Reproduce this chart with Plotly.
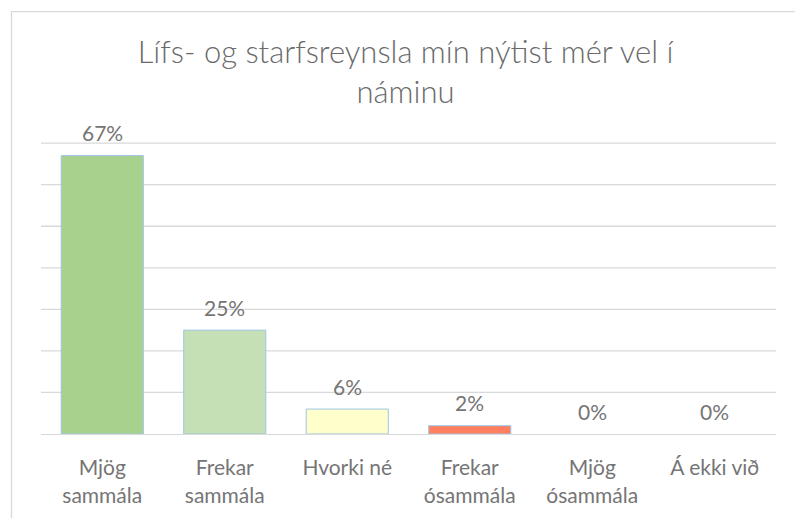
import plotly.graph_objects as go

categories = ["Mjög<br>sammála", "Frekar<br>sammála", "Hvorki né", "Frekar<br>ósammála", "Mjög<br>ósammála", "Á ekki við"]
values = [0.67, 0.25, 0.06, 0.02, 0.0, 0.0]
labels = ["67%", "25%", "6%", "2%", "0%", "0%"]
bar_colors = ["#a9d18e", "#c5e0b4", "#ffffcc", "#ff7f5f", "#ffffff", "#ffffff"]
grid_values = [0.1, 0.2, 0.3, 0.4, 0.5, 0.6, 0.7]
title_text = "Lífs- og starfsreynsla mín nýtist mér vel í<br>náminu"

# page body adds an 8px offset; the figure is sized to compensate
W, H = 795, 510
Y_MAX = 0.71
px_per_unit = 291 / 0.7
L, R, B = 33, 27, 84
T = 135 - (Y_MAX - 0.7) * px_per_unit
pw = W - L - R
ph = H - T - B

line_widths = [1 if v > 0 else 0 for v in values]

fig = go.Figure()
fig.add_trace(go.Bar(
    x=categories, y=values,
    marker=dict(color=bar_colors, line=dict(color="#9dc3e6", width=line_widths)),
    width=0.67,
    hoverinfo="skip",
))

annotations = []
for c, v, t in zip(categories, values, labels):
    annotations.append(dict(x=c, y=v, xref="x", yref="y", text=t, showarrow=False,
                            yanchor="middle", yshift=23,
                            font=dict(family="Lato", size=21, color="#757575")))

def px_x(p):
    return (p - L) / pw

def px_y(p):
    return (H - B - p) / ph

shapes = [dict(type="rect", xref="paper", yref="paper",
               x0=px_x(3.5), x1=px_x(W + 20), y0=px_y(H + 20), y1=px_y(3.5),
               line=dict(color="#d9d9d9", width=1.3), layer="below")]
for g in grid_values:
    shapes.append(dict(type="line", xref="paper", yref="y", x0=0, x1=1, y0=g, y1=g,
                       line=dict(color="#d9d9d9", width=1.3), layer="below"))

fig.update_layout(
    width=W, height=H,
    margin=dict(l=L, r=R, t=T, b=B, autoexpand=False),
    paper_bgcolor="white", plot_bgcolor="white",
    showlegend=False,
    title=dict(text=title_text, x=0.5, xref="container", xanchor="center",
               y=1 - 55 / H, yref="container", yanchor="middle",
               font=dict(family="Lato", size=31, color="#6a6a6a", weight=300)),
    xaxis=dict(showgrid=False, showline=False, zeroline=False, automargin=False,
               ticks="outside", ticklen=15, tickcolor="rgba(0,0,0,0)",
               tickfont=dict(family="Lato", size=21, color="#757575")),
    yaxis=dict(range=[0, Y_MAX], showgrid=False,
               showticklabels=False, showline=False, automargin=False,
               zeroline=True, zerolinecolor="#d9d9d9", zerolinewidth=1.3),
    bargap=0.33,
    annotations=annotations,
    shapes=shapes,
)

fig.write_html("out.html")
